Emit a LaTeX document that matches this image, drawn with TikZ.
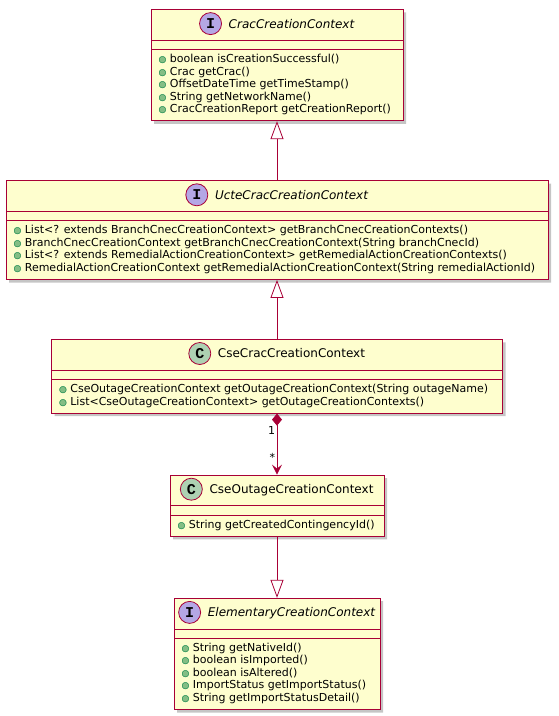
\documentclass[tikz,border=0pt]{standalone}
\usepackage{fontspec}
\setmainfont{DejaVu Sans}
\newfontfamily\markfont{Liberation Mono}
\usetikzlibrary{arrows.meta,positioning,shapes.multipart,shadows}

\definecolor{umlfill}{HTML}{FEFECE}
\definecolor{umlred}{HTML}{A80036}
\definecolor{ifacecol}{HTML}{B4A7E5}
\definecolor{classcol}{HTML}{ADD1B2}
\definecolor{dotfill}{HTML}{84BE84}
\definecolor{dotdraw}{HTML}{038048}

% public member dot, title row, field row, member list
\newcommand{\pub}{{\fontsize{9}{9}\selectfont\rlap{\textcolor{dotfill}{●}}\textcolor{dotdraw}{○}}\hspace{3.5pt}}
\newcommand{\headrow}{\rule[-7pt]{0pt}{22pt}}
\newcommand{\fieldrow}{\rule{0pt}{0.5pt}}
\newenvironment{members}{\begin{tabular}{@{}l@{}}}{\end{tabular}}

\begin{document}
\begin{tikzpicture}[
    node distance = 59pt, % gap between classes
    font = \fontsize{11}{12.5}\selectfont
    ]

    \tikzset{
    umlclass/.style = {
        rectangle split, rectangle split parts=3,
        rectangle split part align={center,left,left},
        draw=umlred, fill=umlfill, line width=0.8pt,
        inner xsep=7.5pt, inner ysep=4pt,
        drop shadow={shadow xshift=3pt, shadow yshift=-3pt, fill=black!45, opacity=.5}
        },
    classname/.style = {anchor=base, inner sep=0pt, font=\fontsize{12}{14}\selectfont},
    umlmark/.style = {circle, draw=umlred, line width=0.8pt, minimum size=22pt,
        inner sep=0pt, font=\markfont\bfseries\fontsize{15}{15}\selectfont},
    ifacemark/.style = {umlmark, fill=ifacecol},
    classmark/.style = {umlmark, fill=classcol},
    extends/.style = {draw=umlred, line width=0.8pt,
        -{Triangle[open, length=18pt, width=13pt]}},
    owns/.style = {draw=umlred, fill=umlred, line width=0.8pt,
        {Diamond[length=12pt, width=10pt]}-{Stealth[length=10pt, width=10pt, inset=4pt]}}
    }

    \useasboundingbox (0,0) rectangle (558pt,-716pt);

    \node[umlclass, anchor=north, minimum width=252pt] (ccc) at (277pt,-9pt)
        {\headrow\nodepart{two}\fieldrow\nodepart{three}\begin{members}
        \pub boolean isCreationSuccessful()\\
        \pub Crac getCrac()\\
        \pub OffsetDateTime getTimeStamp()\\
        \pub String getNetworkName()\\
        \pub CracCreationReport getCreationReport()
        \end{members}};

    \node[umlclass, minimum width=542pt] (ucc) [below=of ccc]
        {\headrow\nodepart{two}\fieldrow\nodepart{three}\begin{members}
        \pub List<? extends BranchCnecCreationContext> getBranchCnecCreationContexts()\\
        \pub BranchCnecCreationContext getBranchCnecCreationContext(String branchCnecId)\\
        \pub List<? extends RemedialActionCreationContext> getRemedialActionCreationContexts()\\
        \pub RemedialActionCreationContext getRemedialActionCreationContext(String remedialActionId)
        \end{members}};

    \node[umlclass, minimum width=451pt] (csc) [below=of ucc]
        {\headrow\nodepart{two}\fieldrow\nodepart{three}\begin{members}
        \pub CseOutageCreationContext getOutageCreationContext(String outageName)\\
        \pub List<CseOutageCreationContext> getOutageCreationContexts()
        \end{members}};

    \node[umlclass, minimum width=214pt] (coc) [below=61pt of csc]
        {\headrow\nodepart{two}\fieldrow\nodepart{three}\begin{members}
        \pub String getCreatedContingencyId()
        \end{members}};

    \node[umlclass, minimum width=206pt] (ece) [below=61pt of coc]
        {\headrow\nodepart{two}\fieldrow\nodepart{three}\begin{members}
        \pub String getNativeId()\\
        \pub boolean isImported()\\
        \pub boolean isAltered()\\
        \pub ImportStatus getImportStatus()\\
        \pub String getImportStatusDetail()
        \end{members}};

    % class names with their marks
    \node[classname] (cccname) at ([yshift=-19pt]ccc.north) {\hspace{29pt}\itshape CracCreationContext};
    \node[classname] (uccname) at ([yshift=-19pt]ucc.north) {\hspace{29pt}\itshape UcteCracCreationContext};
    \node[classname] (cscname) at ([yshift=-19pt]csc.north) {\hspace{29pt}CseCracCreationContext};
    \node[classname] (cocname) at ([yshift=-19pt]coc.north) {\hspace{29pt}CseOutageCreationContext};
    \node[classname] (ecename) at ([yshift=-19pt]ece.north) {\hspace{29pt}\itshape ElementaryCreationContext};

    \node[ifacemark] (cccmark) at ([xshift=11pt, yshift=4.4pt]cccname.base west) {I};
    \node[ifacemark] (uccmark) at ([xshift=11pt, yshift=4.4pt]uccname.base west) {I};
    \node[classmark] (cscmark) at ([xshift=11pt, yshift=4.4pt]cscname.base west) {C};
    \node[classmark] (cocmark) at ([xshift=11pt, yshift=4.4pt]cocname.base west) {C};
    \node[ifacemark] (ecemark) at ([xshift=11pt, yshift=4.4pt]ecename.base west) {I};

    \draw[extends] (ucc.north) -- (ccc.south);
    \draw[extends] (csc.north) -- (ucc.south);
    \draw[owns] (csc.south) -- (coc.north)
        node[pos=0.28, left, inner sep=1.5pt] {1}
        node[pos=0.72, left, inner sep=1.5pt] {*};
    \draw[extends] (coc.south) -- (ece.north);
\end{tikzpicture}
\end{document}
